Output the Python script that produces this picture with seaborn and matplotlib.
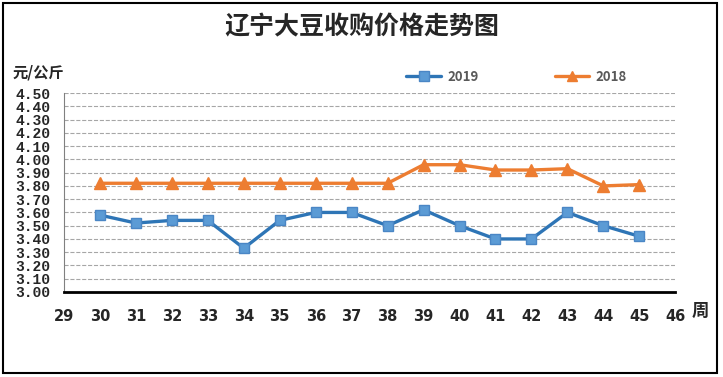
import numpy as np
import pandas as pd
import matplotlib
matplotlib.use('Agg')
import matplotlib.pyplot as plt
import seaborn as sns
from matplotlib.patches import Rectangle

# 数据 (周, 元/公斤)
weeks = [30, 31, 32, 33, 34, 35, 36, 37, 38, 39, 40, 41, 42, 43, 44, 45]
price_2019 = [3.58, 3.52, 3.54, 3.54, 3.33, 3.54, 3.60, 3.60, 3.50, 3.62, 3.50, 3.40, 3.40, 3.60, 3.50, 3.42]
price_2018 = [3.82, 3.82, 3.82, 3.82, 3.82, 3.82, 3.82, 3.82, 3.82, 3.96, 3.96, 3.92, 3.92, 3.93, 3.80, 3.81]
x_ticks = list(range(29, 47))
y_ticks = [round(3.0 + 0.1 * i, 2) for i in range(16)]

df = pd.DataFrame({
    'week': weeks * 2,
    'price': price_2019 + price_2018,
    'year': ['2019'] * len(weeks) + ['2018'] * len(weeks),
})

sns.set_style('white')
plt.rcParams['font.family'] = ['Noto Sans CJK SC', 'DejaVu Sans']

fig = plt.figure(figsize=(7.23, 3.77), dpi=100)
ax = fig.add_axes([0.0885, 0.2255, 0.8455, 0.5275])

palette = {'2019': '#2e75b6', '2018': '#ed7d31'}
markers = {'2019': 's', '2018': '^'}
for yr in ['2019', '2018']:
    sub = df[df['year'] == yr]
    sns.lineplot(data=sub, x='week', y='price', ax=ax, color=palette[yr],
                 linewidth=2.4, marker=markers[yr], markersize=7.5 if yr == '2019' else 9,
                 markerfacecolor='#5b9bd5' if yr == '2019' else '#ed7d31',
                 markeredgecolor='#4a86c5' if yr == '2019' else '#ed7d31',
                 markeredgewidth=1, label=yr, zorder=3)

ax.set_xlim(29, 46)
ax.set_ylim(3.0, 4.5)
ax.set_xticks(x_ticks)
ax.set_yticks(y_ticks)
ax.set_xticklabels([str(v) for v in x_ticks], fontsize=10.5, fontweight='bold',
                   family=['Liberation Sans Narrow', 'DejaVu Sans'])
ax.set_yticklabels([f'{v:.2f}' for v in y_ticks], fontsize=10.5, fontweight='bold',
                   family=['Liberation Mono', 'DejaVu Sans Mono'])
ax.tick_params(axis='x', direction='in', length=5, width=1.5, color='black', pad=12)
ax.tick_params(axis='y', length=0, pad=10)

ax.grid(axis='y', linestyle='--', color='#a6a6a6', linewidth=0.8)
ax.grid(axis='x', visible=False)
for s in ['top', 'right']:
    ax.spines[s].set_visible(False)
ax.spines['bottom'].set_color('black')
ax.spines['bottom'].set_linewidth(2)
ax.spines['left'].set_color('#808080')
ax.spines['left'].set_linewidth(0.8)
ax.set_xlabel('')
ax.set_ylabel('')

leg = ax.legend(loc='lower left', bbox_to_anchor=(0.545, 1.0), ncol=2, frameon=False,
                fontsize=9.5, handlelength=2.6, handletextpad=0.5, columnspacing=5.8,
                borderaxespad=0.3)
for t in leg.get_texts():
    t.set_color('#595959')
    t.set_fontweight('bold')
for h in leg.legend_handles:
    h.set_markersize(6.5)

fig.text(0.5, 0.927, '辽宁大豆收购价格走势图', ha='center', va='center',
         fontsize=18, fontweight='bold')
fig.text(0.018, 0.808, '元/公斤', ha='left', va='center', fontsize=11, fontweight='bold')
fig.text(0.968, 0.174, '周', ha='center', va='center', fontsize=12.5, fontweight='bold')

fig.patches.append(Rectangle((0.004, 0.01), 0.988, 0.982, transform=fig.transFigure,
                             fill=False, edgecolor='black', linewidth=1.5))

fig.savefig('out.png', dpi=100)
